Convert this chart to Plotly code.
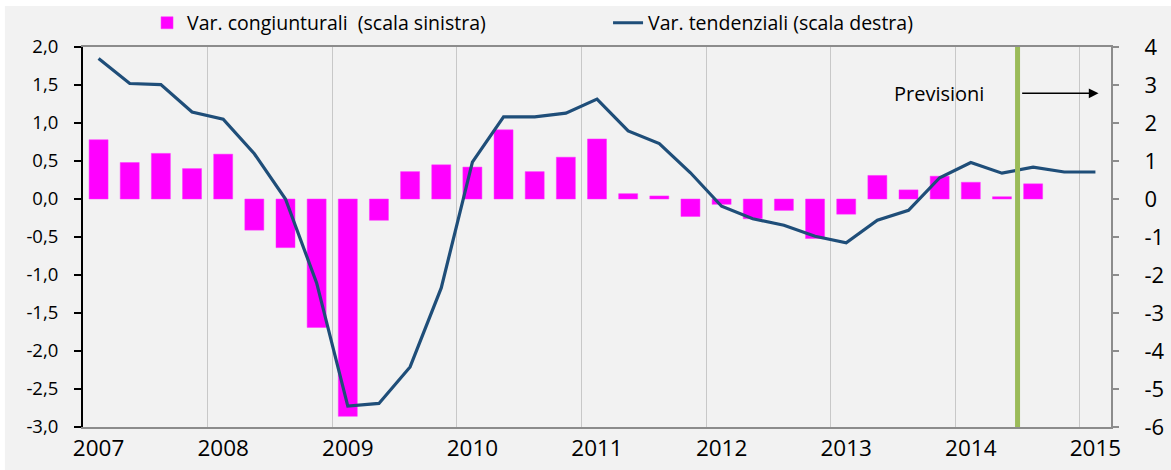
import plotly.graph_objects as go

# ---- data ----
years = [2007, 2008, 2009, 2010, 2011, 2012, 2013, 2014, 2015]
quarters = [f"{y} T{q}" for y in years for q in (1, 2, 3, 4)][:33]
var_congiunturali = [0.78, 0.48, 0.60, 0.40, 0.59, -0.41, -0.64, -1.69,
                     -2.86, -0.28, 0.36, 0.45, 0.42, 0.91, 0.36, 0.55,
                     0.79, 0.07, 0.04, -0.23, -0.07, -0.26, -0.15, -0.52,
                     -0.20, 0.31, 0.12, 0.30, 0.22, 0.03, 0.20, None, None]
var_tendenziali = [3.70, 3.04, 3.01, 2.29, 2.10, 1.19, 0.00, -2.21,
                   -5.45, -5.38, -4.42, -2.34, 0.97, 2.16, 2.16, 2.26,
                   2.63, 1.79, 1.46, 0.69, -0.19, -0.52, -0.69, -0.98,
                   -1.15, -0.56, -0.30, 0.56, 0.96, 0.68, 0.84, 0.71, 0.71]
year_labels = [str(y) for y in years]
forecast_first = "2014 T3"
left_ticks = [2.0, 1.5, 1.0, 0.5, 0.0, -0.5, -1.0, -1.5, -2.0, -2.5, -3.0]
left_labels = ["2,0", "1,5", "1,0", "0,5", "0,0", "-0,5", "-1,0", "-1,5",
               "-2,0", "-2,5", "-3,0"]
right_ticks = [4, 3, 2, 1, 0, -1, -2, -3, -4, -5, -6]
right_labels = ["4", "3", "2", "1", "0", "-1", "-2", "-3", "-4", "-5", "-6"]

xpos = list(range(len(quarters)))
n = len(quarters)
forecast_x = quarters.index(forecast_first) - 0.5

FONT = "Open Sans"
fig = go.Figure()
fig.add_trace(go.Bar(
    x=xpos, y=var_congiunturali, name="Var. congiunturali  (scala sinistra)",
    marker=dict(color="#FF00FF", line=dict(color="#FF33FF", width=0.5)),
    width=0.61, yaxis="y"))
fig.add_trace(go.Scatter(
    x=xpos, y=var_tendenziali, name="Var. tendenziali (scala destra)",
    mode="lines", line=dict(color="#1F4E79", width=3.2), yaxis="y2"))

fig.update_layout(
    width=1171, height=470,
    margin=dict(l=83, r=60, t=47, b=43, autoexpand=False),
    paper_bgcolor="white", plot_bgcolor="rgba(0,0,0,0)",
    font=dict(family=FONT, size=19, color="black"),
    showlegend=True,
    legend=dict(orientation="h", x=0.0623, y=1.063, xanchor="left", yanchor="middle",
                bgcolor="rgba(0,0,0,0)", font=dict(size=19.5), entrywidth=416,
                traceorder="normal"),
    xaxis=dict(range=[-0.5, n - 0.5], tickvals=xpos[::4], ticktext=year_labels,
               showgrid=False, ticks="", showline=True, linecolor="#8C8C8C",
               linewidth=2, mirror=True, zeroline=False,
               tickfont=dict(size=22.5), ticklabelstandoff=0,
               minor=dict(tick0=-0.5, dtick=4, showgrid=True,
                          gridcolor="#C8C8C8", gridwidth=1, ticks="")),
    xaxis3=dict(overlaying="x", anchor="free", position=0.6,
                range=[-0.5, n - 0.5], showline=True, linecolor="#404040",
                linewidth=1, ticks="outside", tickvals=[7.5, 15.5, 23.5, 31.5],
                ticklen=7, tickcolor="#404040", showticklabels=False,
                showgrid=False, zeroline=False),
    yaxis=dict(range=[-3, 2], tickvals=left_ticks, ticktext=left_labels,
               showgrid=False, zeroline=False, showline=True,
               linecolor="black", linewidth=2, ticks="outside", ticklen=7,
               tickcolor="black", tickwidth=2, ticklabelstandoff=12,
               tickfont=dict(size=18.5)),
    yaxis2=dict(range=[-6, 4], tickvals=right_ticks, ticktext=right_labels,
                overlaying="y", side="right", showgrid=False, zeroline=False,
                showline=True, linecolor="#8C8C8C", linewidth=2,
                ticks="outside", ticklen=6, tickcolor="#8C8C8C", tickwidth=2,
                ticklabelstandoff=21, tickfont=dict(size=22)),
    shapes=[
        dict(type="rect", xref="paper", yref="paper", x0=-0.076, x1=1.2,
             y0=-0.3, y1=1.108, fillcolor="#F2F2F2", line=dict(width=0),
             layer="below"),
        dict(type="line", xref="x", yref="paper", x0=forecast_x, x1=forecast_x,
             y0=0, y1=1, line=dict(color="#9BBB59", width=5)),
    ],
    annotations=[
        dict(text="Previsioni", xref="x", yref="y2", x=28.5, y=2.78,
             xanchor="right", yanchor="middle", showarrow=False,
             font=dict(size=20)),
        dict(text="", xref="x", yref="y2", x=32.1, y=2.78,
             axref="x", ayref="y2", ax=forecast_x + 0.1, ay=2.78,
             showarrow=True, arrowhead=2, arrowsize=1.3, arrowwidth=1.5,
             arrowcolor="black"),
    ],
)

fig.write_html(
    "out.html",
    config={"displayModeBar": False},
    post_script="document.body.style.margin='0';"
                "document.body.style.overflow='hidden';"
                "document.documentElement.style.overflow='hidden';",
)
